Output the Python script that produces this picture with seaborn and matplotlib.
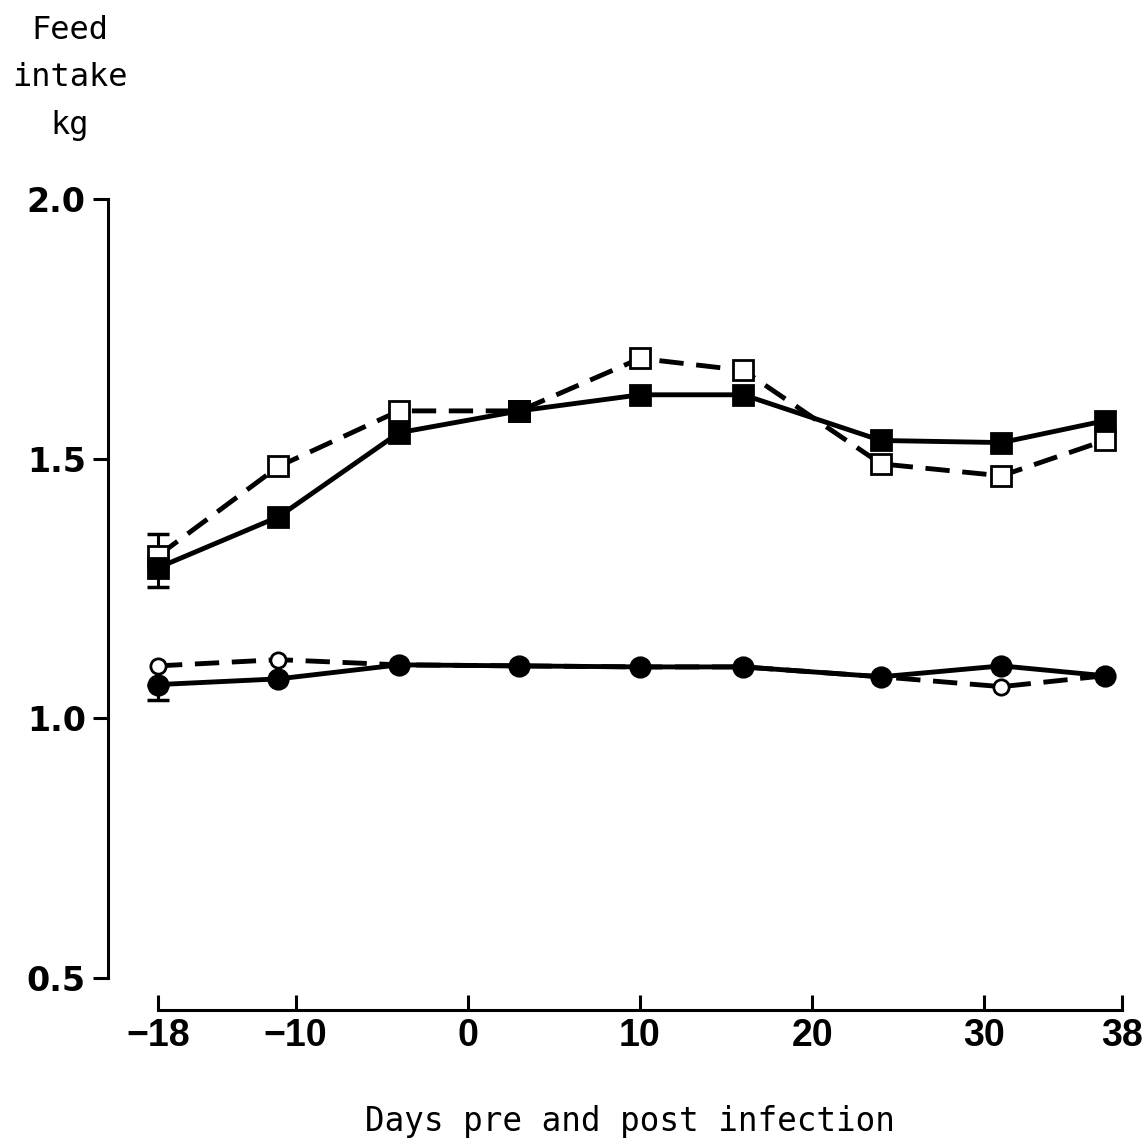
import matplotlib
matplotlib.use("Agg")
import matplotlib.pyplot as plt
import seaborn as sns
import pandas as pd
import numpy as np

# ---- data ----
days = [-18, -11, -4, 3, 10, 16, 24, 31, 37]
sq_filled = [1.290, 1.388, 1.550, 1.592, 1.623, 1.623, 1.535, 1.531, 1.573]
sq_open = [1.313, 1.485, 1.592, 1.592, 1.693, 1.670, 1.490, 1.467, 1.535]
ci_filled = [1.065, 1.076, 1.103, 1.101, 1.099, 1.099, 1.080, 1.101, 1.082]
ci_open = [1.101, 1.113, 1.103, 1.101, 1.099, 1.099, 1.080, 1.061, 1.082]

# error bars at first point (one-sided as drawn)
err_day = -18
sq_open_err_up = 0.042
sq_filled_err_down = 0.037
ci_filled_err_down = 0.029

x_ticks = [-18, -10, 0, 10, 20, 30, 38]
y_ticks = [0.5, 1.0, 1.5, 2.0]
y_ticklabels = ["0.5", "1.0", "1.5", "2.0"]

sns.set_theme(style="white", rc={"text.color": "black", "xtick.color": "black",
                                  "ytick.color": "black", "axes.labelcolor": "black"})
plt.rcParams['font.family'] = ['DejaVu Sans']

W, H = 1144, 1142
dpi = 100
fig = plt.figure(figsize=(W / dpi, H / dpi), dpi=dpi)
left, right = 158 / W, 1122 / W
bottom, top = 1 - 978 / H, 1 - 199 / H
ax = fig.add_axes([left, bottom, right - left, top - bottom])

lw = 3.5
series = [
    (sq_open, 's', 'white', 14, (5, 2.6), 2),
    (sq_filled, 's', 'black', 14, None, 3),
    (ci_open, 'o', 'white', 11, (5, 2.6), 2),
    (ci_filled, 'o', 'black', 14, None, 3),
]
for vals, mk, fc, ms, dash, z in series:
    df = pd.DataFrame({"day": days, "intake": vals})
    sns.lineplot(data=df, x="day", y="intake", ax=ax, color="black",
                 linewidth=lw, marker=mk, markersize=ms,
                 markerfacecolor=fc, markeredgecolor="black",
                 markeredgewidth=2.0, clip_on=False, zorder=z)
    line = ax.lines[-1]
    if dash is not None:
        line.set_dashes(dash)
    line.set_solid_capstyle('butt')

# error bars
for y0, lo, hi in [(sq_open[0], 0, sq_open_err_up),
                   (sq_filled[0], sq_filled_err_down, 0),
                   (ci_filled[0], ci_filled_err_down, 0)]:
    ax.errorbar([err_day], [y0], yerr=[[lo], [hi]], fmt='none',
                ecolor='black', elinewidth=2.2, capsize=8, capthick=2.5,
                clip_on=False, zorder=1)

ax.set_xlim(-18, 38)
ax.set_ylim(0.5, 2.0)
ax.set_xlabel("")
ax.set_ylabel("")

for s in ['top', 'right']:
    ax.spines[s].set_visible(False)
ax.spines['left'].set_position(('outward', 36))
ax.spines['bottom'].set_position(('outward', 23))
ax.spines['left'].set_bounds(0.5, 2.0)
ax.spines['bottom'].set_bounds(-18, 38)
for s in ['left', 'bottom']:
    ax.spines[s].set_color('black')
    ax.spines[s].set_linewidth(2.2)

ax.set_xticks(x_ticks)
ax.set_xticklabels([str(t).replace('-', '\u2212') for t in x_ticks])
ax.set_yticks(y_ticks)
ax.set_yticklabels(y_ticklabels)
ax.tick_params(axis='y', direction='out', length=11, width=2.2, color='black',
               pad=5, labelsize=24, left=True, labelcolor='black')
ax.tick_params(axis='x', direction='in', length=11, width=2.2, color='black',
               pad=6, labelsize=26, bottom=True, labelcolor='black')
for t in ax.get_yticklabels():
    t.set_fontweight('bold')
    t.set_family(['DejaVu Sans'])
for t in ax.get_xticklabels():
    t.set_family(['Liberation Sans', 'DejaVu Sans'])
    t.set_fontsize(27)
    t.set_fontweight('bold')

fig.text(70 / W, 1 - 78 / H, "Feed\nintake\nkg", ha='center', va='center',
         fontsize=23, family=['DejaVu Sans Mono'], linespacing=1.7, color='black')
fig.text(630 / W, 1 - 1122 / H, "Days pre and post infection", ha='center', va='center',
         fontsize=23.5, family=['DejaVu Sans Mono'], color='black')

fig.savefig("out.png", dpi=dpi, facecolor='white')
